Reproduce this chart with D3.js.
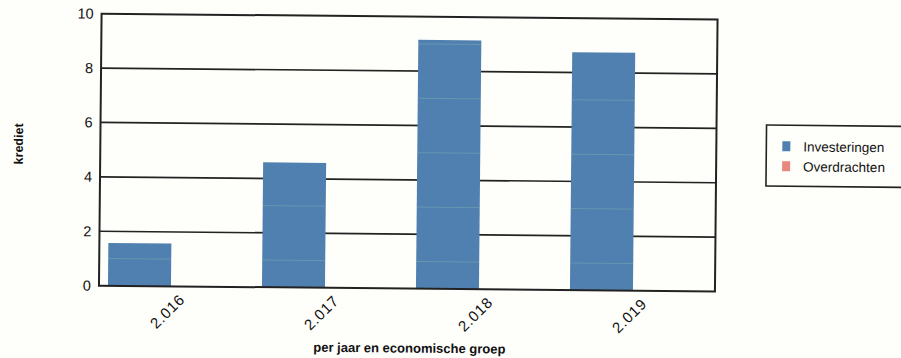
<!DOCTYPE html>
<html>
<head>
<meta charset="utf-8">
<script src="https://cdn.jsdelivr.net/npm/d3@7"></script>
<style>
  body { margin:0; background:#fefefb; }
  svg { display:block; font-family:"Liberation Sans", Arial, sans-serif; }
</style>
</head>
<body>
<div id="chart"></div>
<script>
var years = ["2.016", "2.017", "2.018", "2.019"];
var seriesNames = ["Investeringen", "Overdrachten"];
var investeringen = [1.57, 4.59, 9.15, 8.75];
var overdrachten = [0, 0, 0, 0];
var yTicks = [0, 2, 4, 6, 8, 10];
var minorTicks = [1, 3, 5, 7, 9];
var colors = ["#4f80b0", "#e8887c"];

var width = 901, height = 358;
var startX = 100, startY = 17;
var chatWidth = 616, chatHeight = 272;

var svg = d3.select("#chart").append("svg").attr("width", width).attr("height", height);
// the scan is slightly tilted
var g = svg.append("g").attr("transform", "rotate(0.55,450,180)");

var x0 = d3.scaleBand().domain(years).range([startX, startX + chatWidth]);
var x1 = d3.scaleBand().domain(seriesNames).range([9, 135]);
var yScale = d3.scaleLinear().domain([0, 10]).range([startY + chatHeight, startY]);

var rows = years.map(function(d, i) {
  return {year: d, values: [investeringen[i], overdrachten[i]]};
});

//major gridlines
g.selectAll(".grid").data(yTicks.slice(1, -1)).enter().append("line")
  .attr("x1", startX).attr("x2", startX + chatWidth)
  .attr("y1", yScale).attr("y2", yScale)
  .attr("stroke", "#222").attr("stroke-width", 1.7);

//bars
var groups = g.selectAll(".grp").data(rows).enter().append("g")
  .attr("transform", function(d) { return "translate(" + x0(d.year) + ",0)"; });
groups.selectAll("rect").data(function(d) {
    return d.values.map(function(v, i) { return {name: seriesNames[i], value: v, c: colors[i]}; });
  }).enter().append("rect")
  .attr("x", function(d) { return x1(d.name); })
  .attr("width", x1.bandwidth())
  .attr("y", function(d) { return yScale(d.value); })
  .attr("height", function(d) { return yScale(0) - yScale(d.value); })
  .attr("fill", function(d) { return d.c; });

//faint minor lines showing through the bars
groups.each(function(d) {
  var v = d.values[0];
  d3.select(this).selectAll(".minor").data(minorTicks.filter(function(t) { return t < v; })).enter().append("line")
    .attr("x1", x1(seriesNames[0])).attr("x2", x1(seriesNames[0]) + x1.bandwidth())
    .attr("y1", yScale).attr("y2", yScale)
    .attr("stroke", "#9cc6b2").attr("stroke-width", 0.8).attr("opacity", 0.4);
});

//frame
g.append("rect").attr("x", startX).attr("y", startY).attr("width", chatWidth).attr("height", chatHeight)
  .attr("fill", "none").attr("stroke", "#222").attr("stroke-width", 2);

//y labels
g.selectAll(".ytick").data(yTicks).enter().append("text").text(function(d) { return d; })
  .attr("x", startX - 8).attr("y", yScale).attr("dy", ".35em")
  .attr("text-anchor", "end").attr("font-size", 14.5).attr("fill", "#111");

//x labels
g.selectAll(".xtick").data(years).enter().append("text").text(function(d) { return d; })
  .attr("transform", function(d) { return "translate(" + (x0(d) + x0.bandwidth() / 2 + 10) + "," + 303 + ") rotate(-45)"; })
  .attr("text-anchor", "end").attr("font-size", 15).attr("letter-spacing", 0.8).attr("fill", "#111");

//titles
g.append("text").text("per jaar en economische groep")
  .attr("x", 411).attr("y", 353).attr("text-anchor", "middle")
  .attr("font-size", 13).attr("font-weight", "bold").attr("fill", "#111");
g.append("text").text("krediet")
  .attr("transform", "translate(22.5,148) rotate(-90)").attr("text-anchor", "middle")
  .attr("font-size", 12.5).attr("font-weight", "bold").attr("fill", "#111");

//legend
g.append("rect").attr("x", 766).attr("y", 122).attr("width", 150).attr("height", 61)
  .attr("fill", "none").attr("stroke", "#222").attr("stroke-width", 1.6);
var leg = g.selectAll(".leg").data(seriesNames).enter().append("g")
  .attr("transform", function(d, i) { return "translate(782," + (138 + i * 20) + ")"; });
leg.append("rect").attr("width", 8).attr("height", 10).attr("fill", function(d, i) { return colors[i]; });
leg.append("text").text(function(d) { return d; }).attr("x", 21).attr("y", 10)
  .attr("font-size", 13.5).attr("fill", "#111");
</script>
</body>
</html>
